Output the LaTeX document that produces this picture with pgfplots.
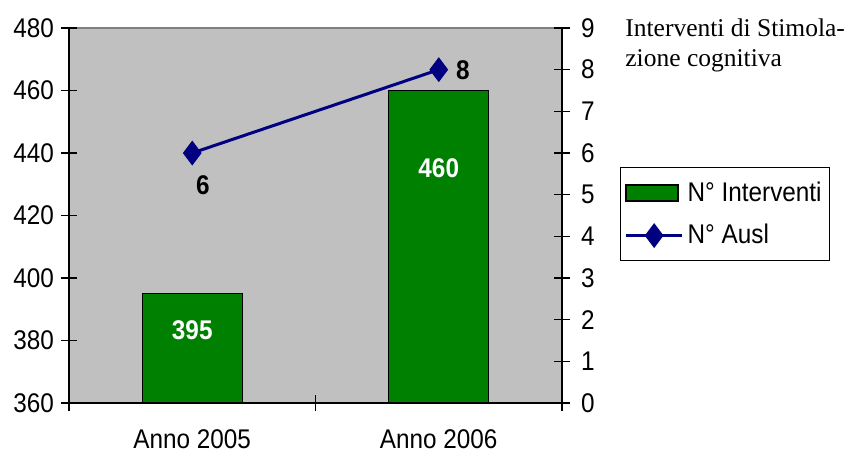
\documentclass[border=0pt]{standalone}
\usepackage{pgfplots}
\pgfplotsset{compat=1.18}
\usepackage{fontspec}
\setmainfont{Liberation Sans}[FakeStretch=0.9]
\newfontfamily\timesfont{Liberation Serif}
\definecolor{plotgray}{HTML}{C0C0C0}
\definecolor{bargreen}{HTML}{008000}
\definecolor{navyline}{HTML}{000080}
\definecolor{bordergray}{HTML}{808080}
\newcommand{\fs}{\fontsize{13.5}{16}\selectfont}
\pgfplotsset{
  common/.style={
    at={(0,0)}, anchor=south west,
    scale only axis, width=246.5pt, height=187.5pt,
    xmin=-0.5, xmax=1.5,
    tick align=center, major tick length=8pt,
    every tick/.style={black, line width=0.6pt},
    /pgf/number format/assume math mode=true,
    tick label style={font=\fs},
    axis line style={black, line width=0.6pt},
  }
}
\begin{document}
\begin{tikzpicture}
\useasboundingbox (-34.5pt,-26pt) rectangle (393.5pt,201.5pt);
\begin{axis}[common,
  ymin=360, ymax=480, ytick={360,380,...,480},
  xtick={-0.5,0.5,1.5}, xticklabels={},
  extra x ticks={0,1}, extra x tick labels={Anno 2005,Anno 2006},
  extra x tick style={major tick length=0pt, xticklabel style={yshift=-10pt}},
  axis x line*=bottom, axis y line*=left,
  axis background/.style={fill=plotgray, draw=bordergray, line width=0.6pt},
  legend style={at={(1.1177,0.629)}, anchor=north west, draw=black, fill=white,
    font=\fs, inner xsep=2pt, inner ysep=5pt,
    row sep=6pt, line width=0.6pt},
  legend cell align=left,
  clip=false,
]
\addplot[ybar, bar width=0.405, fill=bargreen, draw=black, line width=0.6pt,
  legend image code/.code={\draw[fill=bargreen,draw=black,line width=0.9pt] (0pt,-4pt) rectangle (26pt,4pt);}]
  coordinates {(0,395) (1,460)};
\addlegendentry{N° Interventi}
\addlegendimage{navyline, line width=1.5pt, mark=diamond*, mark size=5pt,
  legend image code/.code={\draw[navyline,line width=1.5pt,mark=diamond*,mark size=5pt,mark repeat=2,mark phase=2] plot coordinates {(0pt,0pt) (14pt,0pt) (28pt,0pt)};}}
\addlegendentry{N° Ausl}
\node[font=\bfseries\fs, text=white] at (axis cs:0,383.4) {395};
\node[font=\bfseries\fs, text=white] at (axis cs:1,435.2) {460};
\end{axis}
\begin{axis}[common,
  ymin=0, ymax=9, ytick={0,...,9},
  axis y line*=right, axis x line=none,
  yticklabel style={xshift=2pt},
  clip=false,
]
\addplot[navyline, line width=1.5pt, mark=diamond*, mark size=5pt] coordinates {(0,6) (1,8)};
\node[font=\bfseries\fs] at (axis cs:0.0436,5.232) {6};
\node[font=\bfseries\fs] at (axis cs:1.098,7.99) {8};
\end{axis}
\node[anchor=base west, align=left, inner sep=0pt, font=\timesfont\fontsize{12.75}{15}\selectfont] at (278pt,168pt) {Interventi di Stimola-\\zione cognitiva};
\end{tikzpicture}
\end{document}
